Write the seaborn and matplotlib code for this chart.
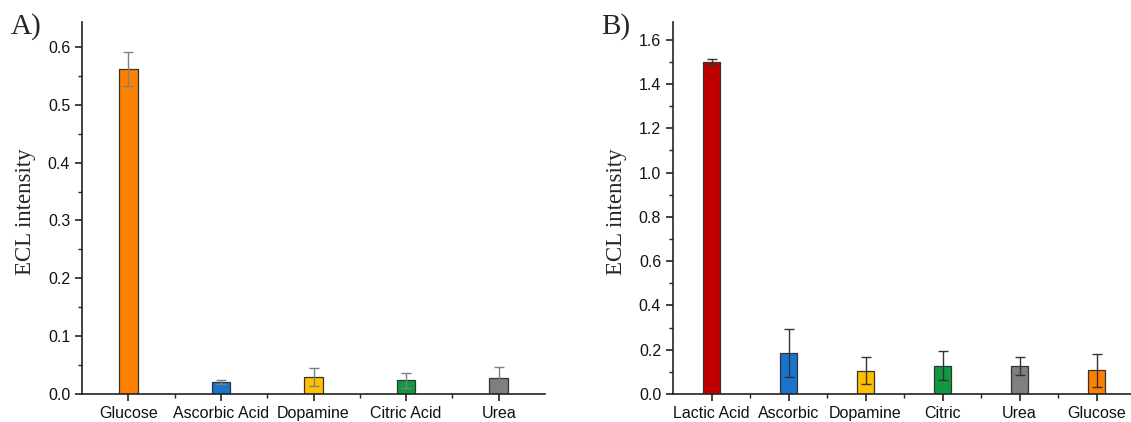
import matplotlib
matplotlib.use("Agg")
import matplotlib.pyplot as plt
import seaborn as sns
import numpy as np
from matplotlib.ticker import MultipleLocator, FixedLocator

# ---- data ----
cats_a = ["Glucose", "Ascorbic Acid", "Dopamine", "Citric Acid", "Urea"]
vals_a = [0.562, 0.021, 0.029, 0.024, 0.027]
errs_a = [0.030, 0.004, 0.016, 0.013, 0.019]
colors_a = ["#FF7F00", "#1874CD", "#FFC000", "#0E9A3E", "#7F7F7F"]

cats_b = ["Lactic Acid", "Ascorbic", "Dopamine", "Citric", "Urea", "Glucose"]
vals_b = [1.500, 0.185, 0.105, 0.128, 0.128, 0.107]
errs_b = [0.015, 0.110, 0.060, 0.067, 0.040, 0.075]
colors_b = ["#C00000", "#1874CD", "#FFC000", "#0E9A3E", "#7F7F7F", "#FF7F00"]

sns.set_style("ticks")
plt.rcParams["font.family"] = ["Liberation Sans", "DejaVu Sans"]

fig = plt.figure(figsize=(11.31, 4.22), dpi=100)
W, H = 1131, 422
ax_a = fig.add_axes([82 / W, 1 - 394 / H, 463 / W, 372 / H])
ax_b = fig.add_axes([673 / W, 1 - 394 / H, 462 / W, 372 / H])


def draw(ax, cats, vals, errs, colors, width, ecolor, ylim, major, minor, label):
    sns.barplot(x=cats, y=vals, hue=cats, palette=colors, legend=False,
                width=width, edgecolor="#333333", linewidth=0.9, ax=ax,
                saturation=1)
    ax.errorbar(np.arange(len(cats)), vals, yerr=errs, fmt="none",
                ecolor=ecolor, elinewidth=1.0, capsize=3.5, capthick=1.0)
    ax.set_xlim(-0.5, len(cats) - 0.5)
    ax.set_ylim(*ylim)
    ax.yaxis.set_major_locator(MultipleLocator(major))
    ax.yaxis.set_minor_locator(MultipleLocator(minor))
    ax.xaxis.set_minor_locator(FixedLocator(np.arange(len(cats) - 1) + 0.5))
    ax.yaxis.set_major_formatter(matplotlib.ticker.FormatStrFormatter("%.1f"))
    for s in ["top", "right"]:
        ax.spines[s].set_visible(False)
    for s in ["left", "bottom"]:
        ax.spines[s].set_linewidth(1.2)
        ax.spines[s].set_color("#222222")
    ax.tick_params(axis="both", which="major", direction="out", length=5,
                   width=1.2, color="#222222", labelsize=11.5, labelcolor="#111111")
    ax.tick_params(axis="both", which="minor", direction="out", length=3,
                   width=1.0, color="#222222")
    ax.set_xlabel("")
    ax.set_ylabel("ECL intensity", family=["Liberation Serif", "DejaVu Serif"],
                  fontsize=16.5)
    ax.yaxis.set_label_coords(-0.10, 0.49)
    ax.text(-0.155, 1.025, label, transform=ax.transAxes,
            family=["Liberation Serif", "DejaVu Serif"], fontsize=21,
            ha="left", va="top")


draw(ax_a, cats_a, vals_a, errs_a, colors_a, 0.2, "#808080", (0, 0.643),
     0.1, 0.05, "A)")
draw(ax_b, cats_b, vals_b, errs_b, colors_b, 0.23, "#333333", (0, 1.68),
     0.2, 0.1, "B)")

fig.savefig("out.png", dpi=100)
